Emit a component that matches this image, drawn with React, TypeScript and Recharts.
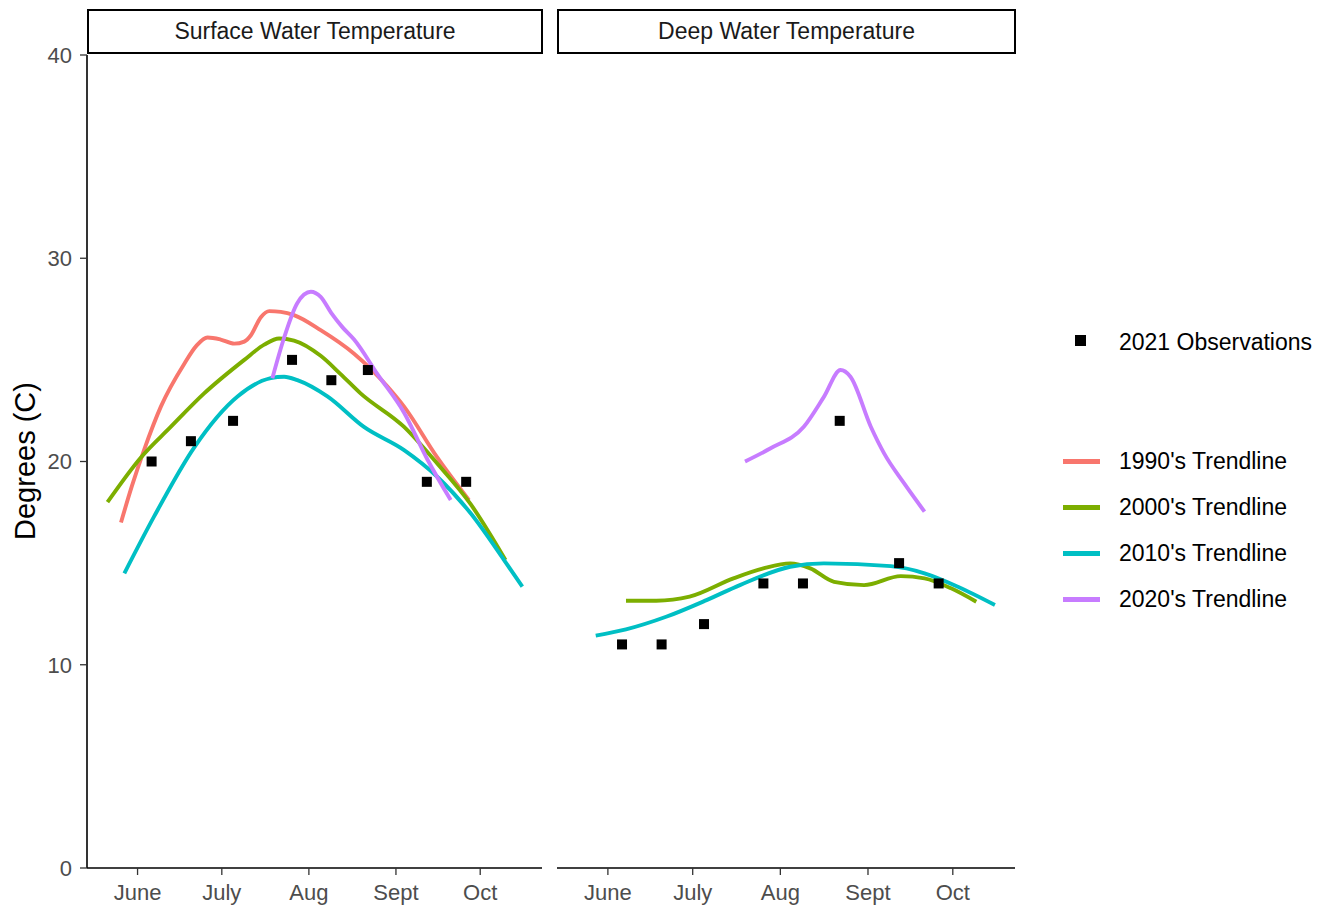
import React from 'react';
import { ComposedChart, Line, Scatter, XAxis, YAxis } from 'recharts';

// x values are day of year, y values are degrees C
const monthTicks = [152, 182, 213, 244, 274];
const monthLabels = ['June', 'July', 'Aug', 'Sept', 'Oct'];
const yTicks = [0, 10, 20, 30, 40];

const obsDays = [157, 171, 186, 207, 221, 234, 255, 269];
const surfaceObs = [20, 21, 22, 25, 24, 24.5, 19, 19];
const deepObs = [11, 11, 12, 14, 14, 22, 15, 14];

const surf1990: [number, number][] = [
  [146.1, 17.0], [150, 18.8], [154.4, 20.6], [160.3, 22.7], [168.6, 24.8], [173, 25.7],
  [176.9, 26.1], [181.6, 26.0], [186.4, 25.8], [190, 25.9], [192.3, 26.2], [195.9, 27.1],
  [198.9, 27.4], [203, 27.36], [207.7, 27.2], [217.2, 26.46], [229.1, 25.3], [240.9, 23.7],
  [246.9, 22.7], [258.7, 20.2], [270, 18.1],
];
const surf2000: [number, number][] = [
  [141.3, 18.0], [153.2, 20.2], [163.8, 21.7], [175.7, 23.35], [190, 25.0], [197.1, 25.75],
  [202.4, 26.05], [207.7, 25.95], [217.2, 25.2], [224.3, 24.3], [231.4, 23.35], [246.9, 21.7],
  [258.7, 19.9], [270.6, 17.9], [283, 15.15],
];
const surf2010: [number, number][] = [
  [147.3, 14.5], [157.9, 17.3], [172.2, 20.7], [187.6, 23.2], [199.4, 24.1], [204.2, 24.17],
  [208.9, 24.0], [219.6, 23.2], [232.6, 21.7], [246.9, 20.56], [258.7, 19.25], [270.6, 17.45],
  [282.5, 15.15], [289, 13.84],
];
const surf2020: [number, number][] = [
  [200, 24.1], [204.2, 26.1], [208.9, 27.8], [213.7, 28.35], [217.2, 28.1], [221, 27.3],
  [225, 26.6], [229.1, 26.0], [237.4, 24.3], [246.9, 22.4], [255.2, 20.1], [263.5, 18.1],
];

const deep2000: [number, number][] = [
  [158.4, 13.15], [169.1, 13.15], [180.9, 13.35], [196.4, 14.25], [207, 14.74], [216.5, 14.99],
  [223.6, 14.74], [232, 14.08], [242.6, 13.92], [255.6, 14.36], [264, 14.25], [273.4, 13.76],
  [282.3, 13.1],
];
const deep2010: [number, number][] = [
  [147.7, 11.43], [158.4, 11.74], [172.6, 12.36], [186.9, 13.18], [198.7, 13.92], [216.5, 14.82],
  [228.4, 14.99], [252.1, 14.85], [264, 14.5], [275.8, 13.84], [288.9, 12.94],
];
const deep2020: [number, number][] = [
  [200.5, 20.0], [209.4, 20.64], [221.3, 21.71], [228.4, 23.18], [234.3, 24.5], [237.8, 24.17],
  [245, 21.71], [249.7, 20.4], [256.8, 18.92], [264, 17.53],
];

const COLORS = { d1990: '#F8766D', d2000: '#7CAE00', d2010: '#00BFC4', d2020: '#C77CFF' };
const FONT = "Arial, 'Liberation Sans', sans-serif";

const pts = (arr: [number, number][]) => arr.map(([x, y]) => ({ x, y }));
const obs = (vals: number[]) => obsDays.map((x, i) => ({ x, y: vals[i] }));

const Square = (props: any) => (
  <rect x={props.cx - 5} y={props.cy - 5} width={10} height={10} fill="#000" />
);

const tickStyle = { fill: '#4D4D4D', fontSize: 22, fontFamily: FONT };

function Panel({ lines, points, showY, width, margin }: any) {
  return (
    <ComposedChart width={width} height={910} margin={margin}>
      <XAxis
        type="number"
        dataKey="x"
        domain={[134, 296]}
        ticks={monthTicks}
        tickFormatter={(v) => monthLabels[monthTicks.indexOf(v)]}
        allowDataOverflow
        height={30}
        tick={tickStyle}
        tickSize={7}
        tickMargin={9}
        axisLine={{ stroke: '#000', strokeWidth: 1.6 }}
        tickLine={{ stroke: '#333', strokeWidth: 1.3 }}
      />
      <YAxis
        type="number"
        dataKey="y"
        domain={[0, 40]}
        ticks={yTicks}
        hide={!showY}
        width={50}
        tick={tickStyle}
        tickSize={7}
        tickMargin={8}
        axisLine={{ stroke: '#000', strokeWidth: 1.6 }}
        tickLine={{ stroke: '#333', strokeWidth: 1.3 }}
      />
      <Scatter data={points} dataKey="y" shape={Square} isAnimationActive={false} />
      {lines.map((l: any) => (
        <Line
          key={l.key}
          data={l.data}
          dataKey="y"
          type="monotone"
          stroke={l.color}
          strokeWidth={3.9}
          dot={false}
          activeDot={false}
          isAnimationActive={false}
        />
      ))}
    </ComposedChart>
  );
}

const stripStyle = (left: number, width: number): React.CSSProperties => ({
  position: 'absolute', left, top: 9, width, height: 45, boxSizing: 'border-box',
  border: '2px solid #000', background: '#fff', display: 'flex', alignItems: 'center',
  justifyContent: 'center', fontFamily: FONT, fontSize: 23, color: '#1A1A1A',
});

const legendItems = [
  { label: "1990's Trendline", color: COLORS.d1990, y: 461 },
  { label: "2000's Trendline", color: COLORS.d2000, y: 507 },
  { label: "2010's Trendline", color: COLORS.d2010, y: 553 },
  { label: "2020's Trendline", color: COLORS.d2020, y: 599 },
];

const legendText: React.CSSProperties = {
  position: 'absolute', left: 1119, transform: 'translateY(-50%)', fontFamily: FONT,
  fontSize: 23, color: '#000', whiteSpace: 'nowrap',
};

export default function App() {
  return (
    <div style={{ position: 'absolute', left: 0, top: 0, width: 1323, height: 910, background: '#fff' }}>
      <div style={{ position: 'absolute', left: 0, top: 0 }}>
        <Panel
          showY
          width={550}
          margin={{ top: 55, right: 8, bottom: 12, left: 37 }}
          points={obs(surfaceObs)}
          lines={[
            { key: '1990', data: pts(surf1990), color: COLORS.d1990 },
            { key: '2000', data: pts(surf2000), color: COLORS.d2000 },
            { key: '2010', data: pts(surf2010), color: COLORS.d2010 },
            { key: '2020', data: pts(surf2020), color: COLORS.d2020 },
          ]}
        />
      </div>
      <div style={{ position: 'absolute', left: 557, top: 0 }}>
        <Panel
          width={460}
          margin={{ top: 55, right: 2, bottom: 12, left: 0 }}
          points={obs(deepObs)}
          lines={[
            { key: '2000', data: pts(deep2000), color: COLORS.d2000 },
            { key: '2010', data: pts(deep2010), color: COLORS.d2010 },
            { key: '2020', data: pts(deep2020), color: COLORS.d2020 },
          ]}
        />
      </div>
      <div style={stripStyle(87, 456)}>Surface Water Temperature</div>
      <div style={stripStyle(557, 459)}>Deep Water Temperature</div>
      <div
        style={{
          position: 'absolute', left: 25, top: 461, transform: 'translate(-50%, -50%) rotate(-90deg)',
          whiteSpace: 'nowrap', fontFamily: FONT, fontSize: 29, color: '#000',
        }}
      >
        Degrees (C)
      </div>
      <div style={{ position: 'absolute', left: 1075, top: 335, width: 11, height: 11, background: '#000' }} />
      <div style={{ ...legendText, top: 342 }}>2021 Observations</div>
      {legendItems.map((it) => (
        <React.Fragment key={it.label}>
          <div style={{ position: 'absolute', left: 1063, top: it.y - 2, width: 37, height: 4.5, background: it.color }} />
          <div style={{ ...legendText, top: it.y }}>{it.label}</div>
        </React.Fragment>
      ))}
    </div>
  );
}
